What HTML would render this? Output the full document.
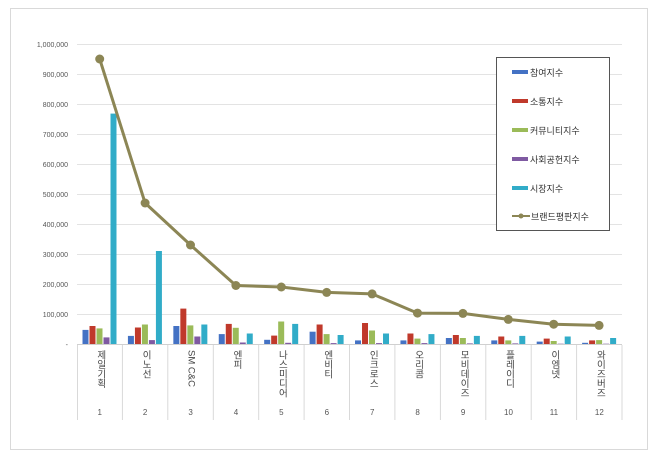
<!DOCTYPE html>
<html><head><meta charset="utf-8"><style>
body{margin:0;background:#fff;width:660px;height:458px;position:relative;overflow:hidden;font-family:"Liberation Sans","Noto Sans CJK KR",sans-serif}
.frame{position:absolute;left:10px;top:8px;width:638px;height:442px;border:1px solid #d9d9d9;box-sizing:border-box}
.lab{position:absolute;top:350px;writing-mode:vertical-rl;text-orientation:upright;font-size:9.5px;color:#444;letter-spacing:0px;line-height:10px}
.num{position:absolute;top:408px;font-size:8px;color:#555;width:30px;text-align:center}
</style></head><body>
<div class="frame"></div>
<svg width="660" height="458" style="position:absolute;left:0;top:0" font-family="Liberation Sans, sans-serif">
<g stroke="#e3e3e3" stroke-width="1">
<line x1="77" x2="622" y1="44.5" y2="44.5"/><line x1="77" x2="622" y1="74.5" y2="74.5"/><line x1="77" x2="622" y1="104.5" y2="104.5"/><line x1="77" x2="622" y1="134.5" y2="134.5"/><line x1="77" x2="622" y1="164.5" y2="164.5"/><line x1="77" x2="622" y1="194.5" y2="194.5"/><line x1="77" x2="622" y1="224.5" y2="224.5"/><line x1="77" x2="622" y1="254.5" y2="254.5"/><line x1="77" x2="622" y1="284.5" y2="284.5"/><line x1="77" x2="622" y1="314.5" y2="314.5"/>
</g>
<g font-size="7" fill="#555" text-anchor="end">
<text x="68" y="47">1,000,000</text><text x="68" y="77">900,000</text><text x="68" y="107">800,000</text><text x="68" y="137">700,000</text><text x="68" y="167">600,000</text><text x="68" y="197">500,000</text><text x="68" y="227">400,000</text><text x="68" y="257">300,000</text><text x="68" y="287">200,000</text><text x="68" y="317">100,000</text><text x="68" y="347">-</text>
</g>
<g id="bars"></g>
<line x1="77" x2="622" y1="344.5" y2="344.5" stroke="#d0d0d0"/>
<g id="ticks" stroke="#d9d9d9"></g>
<polyline fill="none" stroke="#8c8655" stroke-width="3" points="99.7,59 145.1,203 190.5,245 235.9,285.5 281.3,287 326.7,292.4 372.1,293.9 417.5,313.1 462.9,313.4 508.3,319.4 553.7,324.2 599.1,325.4"/>
<g fill="#8c8655"><circle cx="99.7" cy="59" r="4.5"/><circle cx="145.1" cy="203" r="4.5"/><circle cx="190.5" cy="245" r="4.5"/><circle cx="235.9" cy="285.5" r="4.5"/><circle cx="281.3" cy="287" r="4.5"/><circle cx="326.7" cy="292.4" r="4.5"/><circle cx="372.1" cy="293.9" r="4.5"/><circle cx="417.5" cy="313.1" r="4.5"/><circle cx="462.9" cy="313.4" r="4.5"/><circle cx="508.3" cy="319.4" r="4.5"/><circle cx="553.7" cy="324.2" r="4.5"/><circle cx="599.1" cy="325.4" r="4.5"/></g>
<rect x="496.5" y="57.5" width="113" height="173" fill="#fff" stroke="#555"/>
<g font-size="9" fill="#333" font-family="Liberation Sans, Noto Sans CJK KR, sans-serif">
<rect x="512" y="70" width="16" height="4" fill="#4472c4"/><text x="530" y="76">참여지수</text>
<rect x="512" y="99" width="16" height="4" fill="#c0392b"/><text x="530" y="105">소통지수</text>
<rect x="512" y="128" width="16" height="4" fill="#9bbb59"/><text x="530" y="134">커뮤니티지수</text>
<rect x="512" y="157" width="16" height="4" fill="#7f5aa2"/><text x="530" y="163">사회공헌지수</text>
<rect x="512" y="186" width="16" height="4" fill="#31acc8"/><text x="530" y="192">시장지수</text>
<line x1="512" x2="530" y1="216" y2="216" stroke="#8c8655" stroke-width="2"/><circle cx="521" cy="216" r="2.5" fill="#8c8655"/><text x="531" y="220">브랜드평판지수</text>
</g>
</svg>
<div id="labs"></div>
<script>
var d=[[47,60,52,22,768],[27,55,65,13,310],[60,118,62,25,65],[33,67,54,5,35],[14,28,75,4,67],[41,65,33,3,30],[12,70,45,3,35],[12,35,18,3,33],[20,30,20,2,27],[12,25,12,2,27],[8,18,10,1,25],[4,12,13,1,20]];
var c=["#4472c4","#c0392b","#9bbb59","#7f5aa2","#31acc8"];
var n=["제일기획","이노선","SM C&C","엔피","나스미디어","엔비티","인크로스","오리콤","모비데이즈","플레이디","이엠넷","와이즈버즈"];
var s="",t="",h="",w=45.42;
for(var i=0;i<12;i++){var x0=77+i*w;
for(var j=0;j<5;j++){var v=d[i][j]*0.3;s+='<rect x="'+(x0+5.5+j*7)+'" y="'+(344-v)+'" width="6" height="'+v+'" fill="'+c[j]+'"/>';}
t+='<line x1="'+(x0+w).toFixed(1)+'" x2="'+(x0+w).toFixed(1)+'" y1="345" y2="420"/>';
var st=i==2?'text-orientation:mixed;':'';
h+='<div class="lab" style="left:'+(x0+w/2-5)+'px;'+st+'">'+n[i].replace('&','&amp;')+'</div><div class="num" style="left:'+(x0+w/2-15)+'px">'+(i+1)+'</div>';}
t+='<line x1="77.5" x2="77.5" y1="345" y2="420"/>';
document.getElementById('bars').innerHTML=s;document.getElementById('ticks').innerHTML=t;document.getElementById('labs').innerHTML=h;
</script>
</body></html>
